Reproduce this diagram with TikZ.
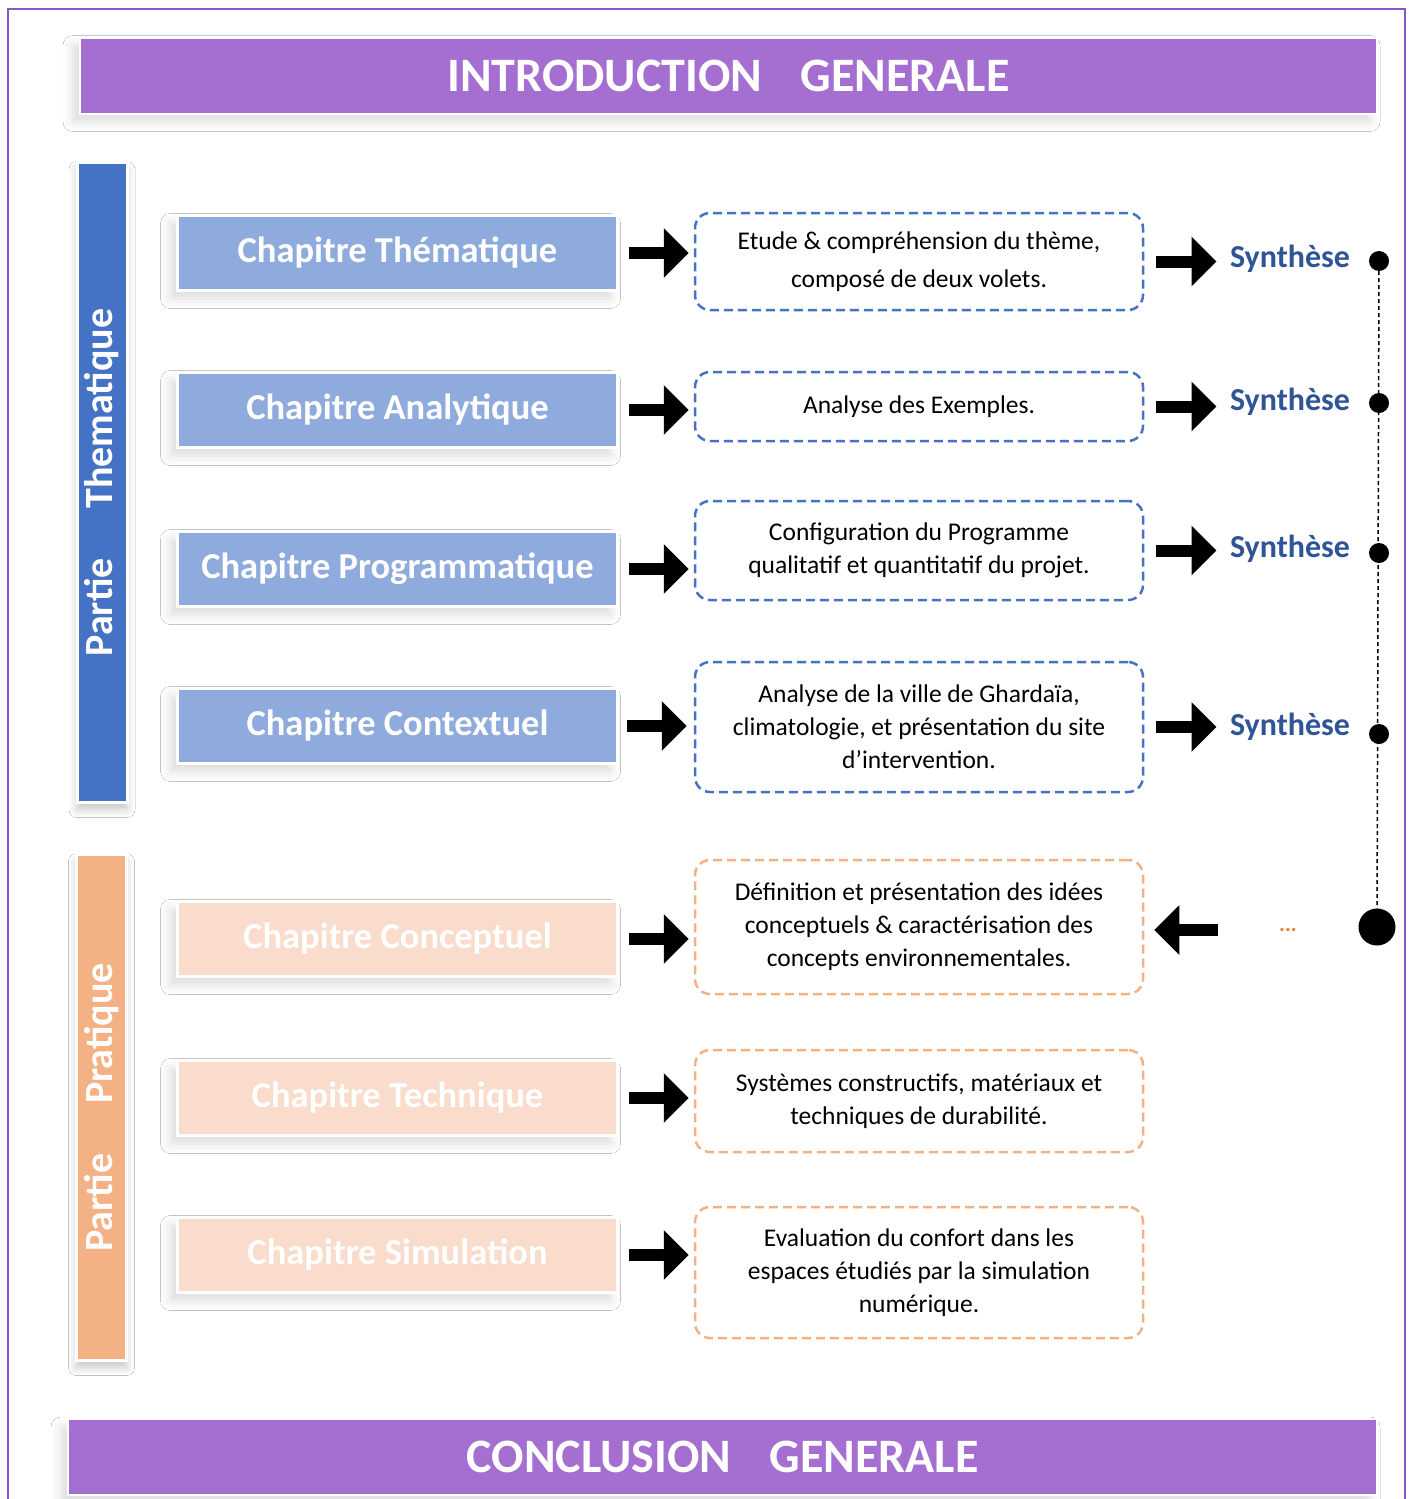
\documentclass[tikz,border=0pt]{standalone}
\usepackage{fontspec}
\setmainfont{Carlito}
\usetikzlibrary{arrows.meta,shadows.blur}
\definecolor{bandeau}{HTML}{A56ED1}
\definecolor{cadre}{HTML}{8558C4}
\definecolor{bleufonce}{HTML}{4472C4}
\definecolor{bleuclair}{HTML}{8FAADC}
\definecolor{orangefonce}{HTML}{F4B183}
\definecolor{orangeclair}{HTML}{F9DCCB}
\definecolor{synth}{HTML}{2F5597}
\definecolor{points}{HTML}{ED7D31}
\begin{document}
\begin{tikzpicture}[x=1pt,y=-1pt]
		\tikzset{ombre/.style={blur shadow={shadow xshift=-7pt, shadow yshift=-8pt, shadow blur radius=10pt, shadow opacity=14}}}
		\tikzset{ombrebarre/.style={blur shadow={shadow xshift=0pt, shadow yshift=-7pt, shadow blur radius=8pt, shadow opacity=22}}}
		\tikzset{titre/.style={ombre, fill=bandeau, draw=white, line width=2pt, inner sep=0pt, minimum height=76pt, text=white, font=\fontsize{48}{52}\selectfont\bfseries}}
		\tikzset{partie/.style={ombrebarre, draw=white, line width=3pt, inner sep=0pt, rotate=90, minimum height=50pt, text=white, font=\fontsize{40}{44}\selectfont\bfseries}}
		\tikzset{chapitre/.style={ombre, draw=white, line width=3pt, inner sep=0pt, minimum width=440pt, minimum height=75pt, text=white, font=\fontsize{36.5}{40}\selectfont\bfseries}}
		\tikzset{resume/.style={line width=2.5pt, dash pattern=on 9pt off 5pt, rounded corners=15pt, fill=white, text=black, inner sep=0pt, minimum width=448pt, align=center, font=\fontsize{25.5}{33}\selectfont}}
		\tikzset{synthese/.style={text=synth, font=\fontsize{32}{34}\selectfont\bfseries}}
		\tikzset{fleche/.style={line width=12pt, -{Triangle[length=25pt,width=48pt]}}}
		\tikzset{point/.style={circle, fill=black, inner sep=0pt, minimum size=20pt}}

		\useasboundingbox (0,0) rectangle (1411,1499);
		\fill[white] (0,0) rectangle (1411,1499);
		\draw[cadre, line width=2pt] (8,1520) -- (8,9) -- (1405,9) -- (1405,1520);

		\node[titre, minimum width=1297pt] (intro) at (728.5,75.5) {INTRODUCTION\hspace{0.8em}GENERALE};
		\node[titre, minimum width=1309pt] (concl) at (722.5,1457) {CONCLUSION\hspace{0.8em}GENERALE};

		\node[partie, fill=bleufonce, minimum width=640pt] (P1) at (102,482.5) {Partie\hspace{50pt}Thematique\hspace{42pt}};
		\node[partie, fill=orangefonce, minimum width=506pt] (P2) at (101.5,1107.5) {Partie\hspace{50pt}Pratique\hspace{12pt}};

		\node[chapitre, fill=bleuclair] (C1) at (397.5,253) {Chapitre Thématique};
		\node[chapitre, fill=bleuclair] (C2) at (397.5,410) {Chapitre Analytique};
		\node[chapitre, fill=bleuclair] (C3) at (397.5,569) {Chapitre Programmatique};
		\node[chapitre, fill=bleuclair] (C4) at (397.5,726) {Chapitre Contextuel};
		\node[chapitre, fill=orangeclair] (C5) at (397.5,939) {Chapitre Conceptuel};
		\node[chapitre, fill=orangeclair] (C6) at (397.5,1098) {Chapitre Technique};
		\node[chapitre, fill=orangeclair] (C7) at (397.5,1255) {Chapitre Simulation};

		\node[resume, draw=bleufonce, minimum height=97pt, font=\fontsize{25.5}{38}\selectfont] (B1) at (919,261.5) {Etude \& compréhension du thème,\\composé de deux volets.};
		\node[resume, draw=bleufonce, minimum height=69pt] (B2) at (919,406.5) {Analyse des Exemples.};
		\node[resume, draw=bleufonce, minimum height=99pt] (B3) at (919,550.5) {Configuration du Programme\\qualitatif et quantitatif du projet.};
		\node[resume, draw=bleufonce, minimum height=130pt] (B4) at (919,727) {Analyse de la ville de Ghardaïa,\\climatologie, et présentation du site\\d’intervention.};
		\node[resume, draw=orangefonce, minimum height=134pt] (B5) at (919,927) {Définition et présentation des idées\\conceptuels \& caractérisation des\\concepts environnementales.};
		\node[resume, draw=orangefonce, minimum height=102pt] (B6) at (919,1101) {Systèmes constructifs, matériaux et\\techniques de durabilité.};
		\node[resume, draw=orangefonce, minimum height=131pt] (B7) at (919,1272.5) {Evaluation du confort dans les\\espaces étudiés par la simulation\\numérique.};

		\node[synthese] (S1) at (1290,259) {Synthèse};
		\node[synthese] (S2) at (1290,402) {Synthèse};
		\node[synthese] (S3) at (1290,549) {Synthèse};
		\node[synthese] (S4) at (1290,727) {Synthèse};
		\node[text=points, font=\fontsize{22}{24}\selectfont\bfseries] (S5) at (1288,930) {...};

		\node[point] (D1) at (1379,261) {};
		\node[point] (D2) at (1379,403) {};
		\node[point] (D3) at (1379,553) {};
		\node[point] (D4) at (1379,734) {};
		\node[point, minimum size=37pt] (D5) at (1377,927) {};
		\coordinate (R) at (1218,930);

    \draw[line width=1.5pt, dash pattern=on 4pt off 3pt] (D1) -- (D5);

    \draw[fleche, shorten <=10pt, shorten >=5pt] (C1.east) -- (C1.east -| B1.west);
    \draw[fleche, shorten <=10pt, shorten >=5pt] (C2.east) -- (C2.east -| B2.west);
    \draw[fleche, shorten <=10pt, shorten >=5pt] (C3.east) -- (C3.east -| B3.west);
    \draw[fleche, shorten <=8pt, shorten >=7pt] (C4.east) -- (C4.east -| B4.west);
    \draw[fleche, shorten <=10pt, shorten >=5pt] (C5.east) -- (C5.east -| B5.west);
    \draw[fleche, shorten <=10pt, shorten >=5pt] (C6.east) -- (C6.east -| B6.west);
    \draw[fleche, shorten <=10pt, shorten >=5pt] (C7.east) -- (C7.east -| B7.west);

    \draw[fleche, shorten <=12pt, shorten >=10pt] (B1.east) -- (B1.east -| S1.west);
    \draw[fleche, shorten <=12pt, shorten >=10pt] (B2.east) -- (B2.east -| S2.west);
    \draw[fleche, shorten <=12pt, shorten >=10pt] (B3.east) -- (B3.east -| S3.west);
    \draw[fleche, shorten <=12pt, shorten >=10pt] (B4.east) -- (B4.east -| S4.west);
    \draw[fleche, shorten >=10pt] (R) -- (R -| B5.east);

		\end{tikzpicture}
\end{document}
